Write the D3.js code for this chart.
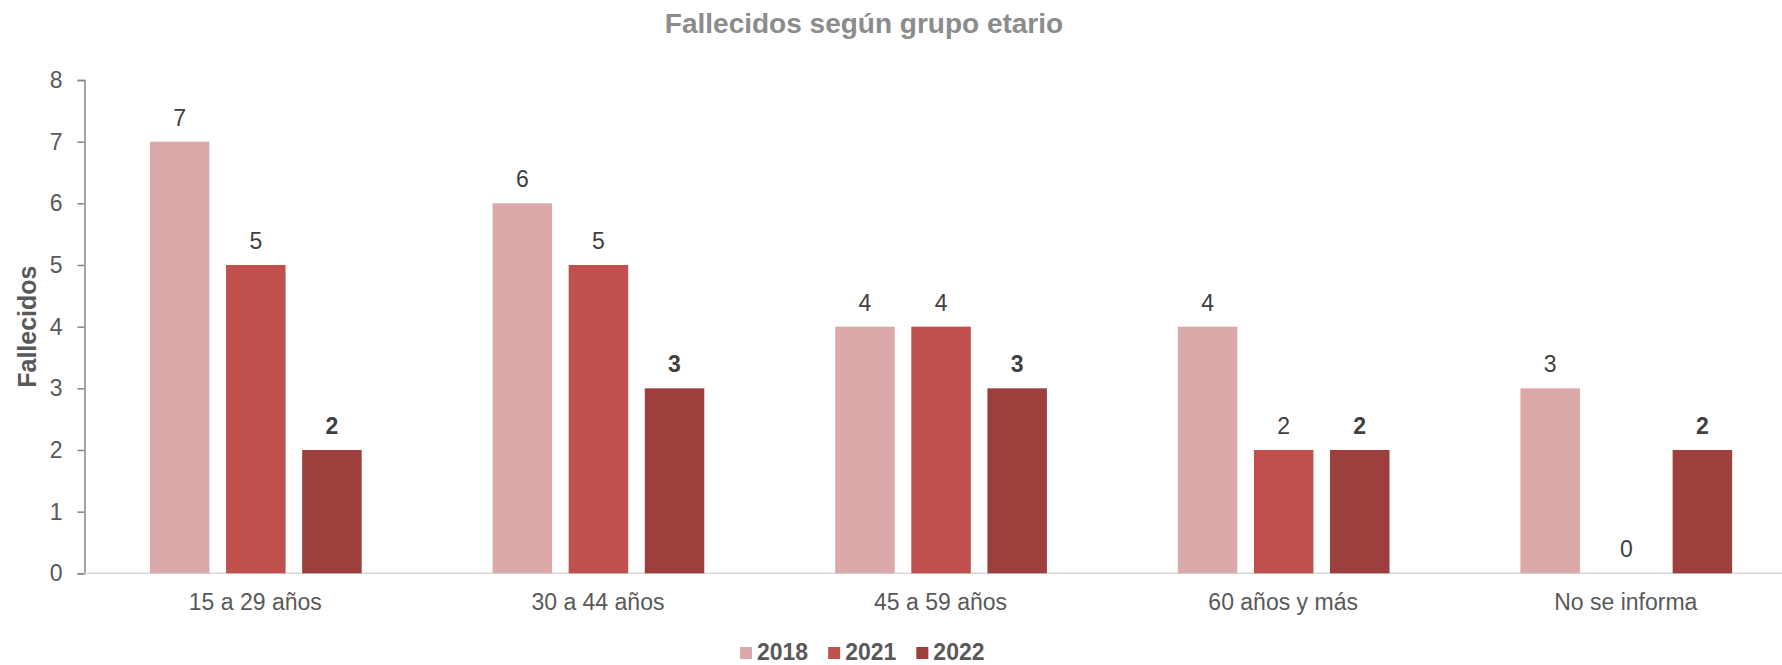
<!DOCTYPE html>
<html>
<head>
<meta charset="utf-8">
<script src="https://cdn.jsdelivr.net/npm/d3@7"></script>
<style>
  body { margin: 0; background: #fff; }
  text { font-family: "Liberation Sans", Arial, sans-serif; }
</style>
</head>
<body>
<div id="chart"></div>
<script>
// Datos
const categorias = ["15 a 29 años", "30 a 44 años", "45 a 59 años", "60 años y más", "No se informa"];
const anios = ["2018", "2021", "2022"];
const valores2018 = [7, 6, 4, 4, 3];
const valores2021 = [5, 5, 4, 2, 0];
const valores2022 = [2, 3, 3, 2, 2];
const ticksY = [0, 1, 2, 3, 4, 5, 6, 7, 8];
const colores = ["#DBA9AA", "#C0504D", "#9C3F3D"];

const series = [valores2018, valores2021, valores2022];

const width = 1782;
const height = 665;

const svg = d3.select("#chart").append("svg")
    .attr("width", width)
    .attr("height", height);

// Escalas
const x0 = d3.scaleBand()
    .domain(categorias)
    .range([84.5, 1797.6])
    .padding(0);

const x1 = d3.scaleBand()
    .domain(anios)
    .range([0, x0.bandwidth()])
    .paddingInner(0.218)
    .paddingOuter(0.86);

const y = d3.scaleLinear()
    .domain([0, 8])
    .range([573.3, 80]);

const color = d3.scaleOrdinal().domain(anios).range(colores);

// Titulo
svg.append("text")
    .attr("x", 864)
    .attr("y", 33)
    .attr("text-anchor", "middle")
    .attr("font-size", 28)
    .attr("font-weight", "bold")
    .attr("fill", "#8C8C8C")
    .text("Fallecidos según grupo etario");

// Eje Y
const yAxis = svg.append("g")
    .attr("transform", "translate(84.5,0)")
    .call(d3.axisLeft(y).tickValues(ticksY).tickSize(7).tickPadding(15).tickFormat(d3.format("d")));
yAxis.select(".domain").attr("stroke", "#868686").attr("stroke-width", 1.5);
yAxis.selectAll(".tick line").attr("stroke", "#868686").attr("stroke-width", 1.5);
yAxis.selectAll(".tick text")
    .attr("font-size", 23)
    .attr("fill", "#595959")
    .attr("font-family", "Liberation Sans, Arial, sans-serif");

// Línea base
svg.append("line")
    .attr("x1", 84.5)
    .attr("x2", width)
    .attr("y1", y(0))
    .attr("y2", y(0))
    .attr("stroke", "#D9D9D9")
    .attr("stroke-width", 1.5);

// Titulo eje Y
svg.append("text")
    .attr("transform", `translate(36,${(y(0) + y(8)) / 2}) rotate(-90)`)
    .attr("text-anchor", "middle")
    .attr("font-size", 25)
    .attr("font-weight", "bold")
    .attr("fill", "#595959")
    .text("Fallecidos");

// Barras
const grupos = svg.selectAll(".grupo")
    .data(categorias)
    .enter().append("g")
    .attr("class", "grupo")
    .attr("transform", d => `translate(${x0(d)},0)`);

grupos.selectAll("rect")
    .data((d, i) => anios.map((a, j) => ({ anio: a, valor: series[j][i] })))
    .enter().append("rect")
    .attr("x", d => x1(d.anio))
    .attr("y", d => y(d.valor))
    .attr("width", x1.bandwidth())
    .attr("height", d => y(0) - y(d.valor))
    .attr("fill", d => color(d.anio));

// Etiquetas de datos
grupos.selectAll(".etiqueta")
    .data((d, i) => anios.map((a, j) => ({ anio: a, valor: series[j][i] })))
    .enter().append("text")
    .attr("class", "etiqueta")
    .attr("x", d => x1(d.anio) + x1.bandwidth() / 2)
    .attr("y", d => y(d.valor) - 16)
    .attr("text-anchor", "middle")
    .attr("font-size", 23)
    .attr("font-weight", d => d.anio === "2022" ? "bold" : "normal")
    .attr("fill", "#404040")
    .text(d => d.valor);

// Etiquetas de categoría
svg.selectAll(".cat")
    .data(categorias)
    .enter().append("text")
    .attr("class", "cat")
    .attr("x", d => x0(d) + x0.bandwidth() / 2 - 0.5)
    .attr("y", y(0) + 37)
    .attr("text-anchor", "middle")
    .attr("font-size", 23)
    .attr("fill", "#595959")
    .text(d => d);

// Leyenda
const leyenda = svg.append("g");
let lx = 740;
anios.forEach(a => {
    leyenda.append("rect")
        .attr("x", lx)
        .attr("y", 647)
        .attr("width", 12)
        .attr("height", 12)
        .attr("fill", color(a));
    const t = leyenda.append("text")
        .attr("x", lx + 17)
        .attr("y", 660)
        .attr("font-size", 23)
        .attr("font-weight", "bold")
        .attr("fill", "#595959")
        .text(a);
    lx += 17 + t.node().getComputedTextLength() + 20;
});
</script>
</body>
</html>
